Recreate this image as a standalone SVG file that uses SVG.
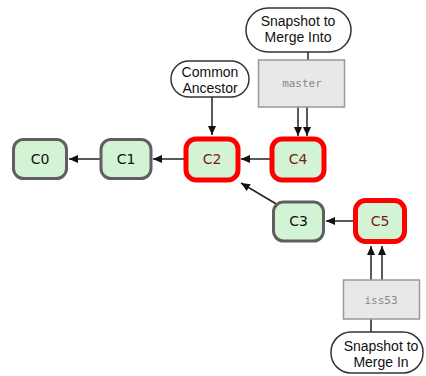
<svg xmlns="http://www.w3.org/2000/svg" width="426" height="376" viewBox="0 0 426 376">
<defs>
<marker id="ah" markerWidth="10" markerHeight="10" refX="9" refY="5" orient="auto" markerUnits="userSpaceOnUse">
<path d="M0,1 L9,5 L0,9 Z" fill="#111"/>
</marker>
<style>
.commit{fill:#d2f4d4;stroke:#5f5f5f;stroke-width:3}
.hl{fill:#d2f4d4;stroke:#f00;stroke-width:5}
.ct{font-family:"DejaVu Sans",sans-serif;font-size:14px;fill:#111;text-anchor:middle}
.ctr{font-family:"DejaVu Sans",sans-serif;font-size:14px;fill:#7a1a1a;text-anchor:middle}
.br{fill:#e8e8e8;stroke:#999;stroke-width:1.5}
.bt{font-family:"DejaVu Sans Mono",monospace;font-size:11px;fill:#888;text-anchor:middle}
.co{fill:#fff;stroke:#333;stroke-width:1.5}
.cot{font-family:"Liberation Sans",Arial,sans-serif;font-size:14px;fill:#111;text-anchor:middle}
.ln{stroke:#222;stroke-width:1.5;fill:none}
</style>
</defs>
<g id="connectors">
<line class="ln" x1="100" y1="159" x2="69" y2="159" marker-end="url(#ah)"/>
<line class="ln" x1="184" y1="159" x2="153" y2="159" marker-end="url(#ah)"/>
<line class="ln" x1="270" y1="159" x2="241" y2="159" marker-end="url(#ah)"/>
<line class="ln" x1="353" y1="221" x2="326" y2="221" marker-end="url(#ah)"/>
<line class="ln" x1="278" y1="205" x2="241" y2="183" marker-end="url(#ah)"/>
<line class="ln" x1="212" y1="97" x2="212" y2="135" marker-end="url(#ah)"/>
<line class="ln" x1="298" y1="107" x2="298" y2="136" marker-end="url(#ah)"/>
<line class="ln" x1="307" y1="107" x2="307" y2="136" marker-end="url(#ah)"/>
<line class="ln" x1="371" y1="280" x2="371" y2="246" marker-end="url(#ah)"/>
<line class="ln" x1="382" y1="280" x2="382" y2="246" marker-end="url(#ah)"/>
<line class="ln" x1="308" y1="52" x2="308" y2="60"/>
<line class="ln" x1="371" y1="319" x2="371" y2="332"/>
</g>
<g id="C0"><rect class="commit" x="13.5" y="139.5" width="53" height="39" rx="10"/><text class="ct" x="40" y="164">C0</text></g>
<g id="C1"><rect class="commit" x="101" y="139.5" width="50" height="39" rx="10"/><text class="ct" x="126" y="164">C1</text></g>
<g id="C2"><rect class="hl" x="186" y="139" width="52" height="41" rx="10"/><text class="ctr" x="212" y="164">C2</text></g>
<g id="C4"><rect class="hl" x="272" y="139" width="52" height="41" rx="10"/><text class="ctr" x="298" y="164">C4</text></g>
<g id="C3"><rect class="commit" x="273.5" y="202" width="50" height="39" rx="10"/><text class="ct" x="298.5" y="226">C3</text></g>
<g id="C5"><rect class="hl" x="355.5" y="200.5" width="49" height="41" rx="10"/><text class="ctr" x="380" y="226">C5</text></g>
<g id="master"><rect class="br" x="258.5" y="60" width="86" height="47"/><text class="bt" x="302" y="87">master</text></g>
<g id="iss53"><rect class="br" x="343.5" y="280" width="76" height="39"/><text class="bt" x="381" y="304">iss53</text></g>
<g id="mergeInto"><rect class="co" x="246" y="8" width="105" height="44" rx="22"/><text class="cot" x="298" y="26">Snapshot to</text><text class="cot" x="298" y="42">Merge Into</text></g>
<g id="ancestor"><rect class="co" x="171" y="61" width="78" height="36" rx="18"/><text class="cot" x="210" y="77">Common</text><text class="cot" x="210" y="93">Ancestor</text></g>
<g id="mergeIn"><rect class="co" x="331" y="332" width="92" height="41" rx="20"/><text class="cot" x="381" y="351">Snapshot to</text><text class="cot" x="381" y="367">Merge In</text></g>
</svg>
